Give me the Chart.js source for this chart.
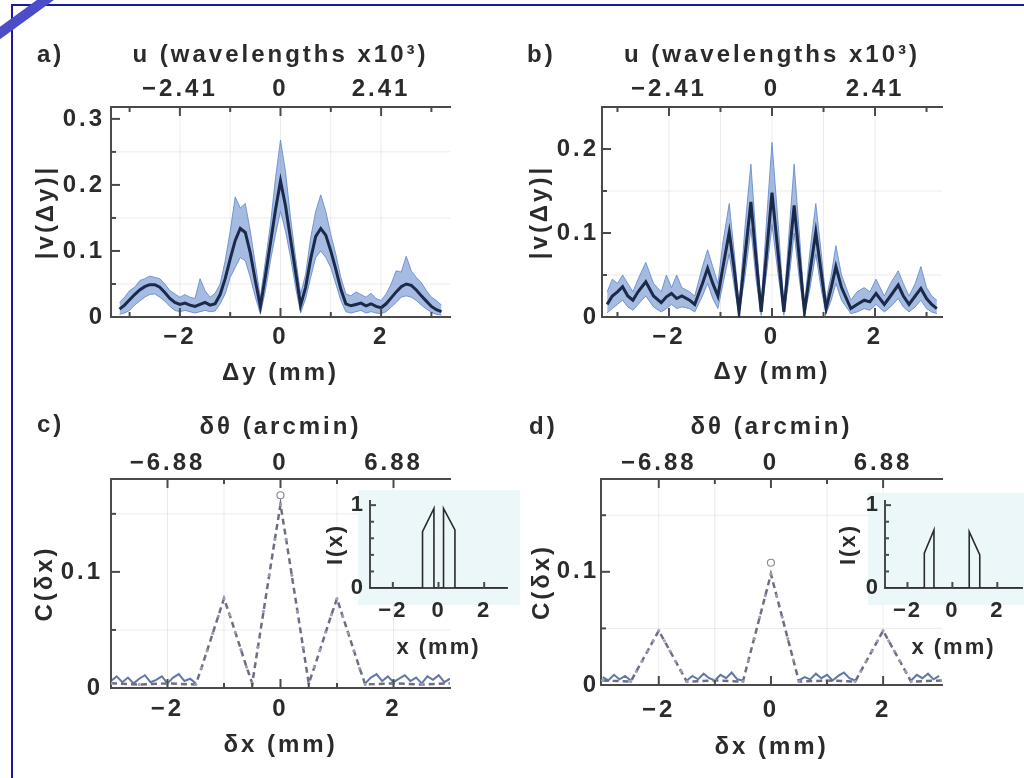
<!DOCTYPE html>
<html>
<head>
<meta charset="utf-8">
<script src="https://cdn.jsdelivr.net/npm/chart.js@4.4.0/dist/chart.umd.min.js"></script>
<style>
  body { margin: 0; background: #fff; }
  #page { position: relative; width: 1024px; height: 778px; overflow: hidden; }
  canvas { position: absolute; }
  #frame { position: absolute; left: 11px; top: 4px; width: 1100px; height: 900px;
           border-top: 2px solid #1a1aa0; border-left: 2px solid #1a1aa0; }
  #slash { position: absolute; left: -23px; top: 12px; width: 90px; height: 10px;
           background: #4c4cc8; transform: rotate(-36deg); }
</style>
</head>
<body>
<div id="page">
  <div id="frame"></div>
  <canvas id="pa"></canvas>
  <canvas id="pb"></canvas>
  <canvas id="pc"></canvas>
  <canvas id="pd"></canvas>
  <canvas id="ic"></canvas>
  <canvas id="id"></canvas>
  <div id="slash"></div>
</div>
<script>
'use strict';
// panel a: |v(dy)| measured, mean + spread
const xsA = [-3.2,-3.1,-3.0,-2.9,-2.8,-2.7,-2.6,-2.5,-2.4,-2.3,-2.2,-2.1,-2.0,-1.9,-1.8,-1.7,-1.6,-1.5,-1.4,-1.3,-1.2,-1.1,-1.0,-0.9,-0.8,-0.7,-0.6,-0.5,-0.4,-0.3,-0.2,-0.1,0,0.1,0.2,0.3,0.4,0.5,0.6,0.7,0.8,0.9,1.0,1.1,1.2,1.3,1.4,1.5,1.6,1.7,1.8,1.9,2.0,2.1,2.2,2.3,2.4,2.5,2.6,2.7,2.8,2.9,3.0,3.1,3.2];
const meanA = [0.012,0.018,0.026,0.034,0.041,0.046,0.049,0.049,0.045,0.037,
  0.028,0.022,0.019,0.021,0.018,0.016,0.019,0.022,0.018,0.020,
  0.034,0.058,0.088,0.116,0.134,0.128,0.097,0.055,0.016,0.062,
  0.112,0.162,0.206,0.168,0.118,0.068,0.018,0.045,0.088,0.122,
  0.134,0.124,0.100,0.072,0.042,0.020,0.017,0.019,0.021,0.017,
  0.020,0.016,0.014,0.020,0.029,0.038,0.046,0.050,0.048,0.041,
  0.032,0.024,0.016,0.011,0.008];
const upA = [0.022,0.030,0.040,0.045,0.055,0.058,0.062,0.060,0.058,0.050,
  0.040,0.035,0.030,0.034,0.030,0.028,0.058,0.040,0.030,0.036,
  0.050,0.085,0.130,0.182,0.165,0.172,0.130,0.080,0.030,0.085,
  0.140,0.210,0.268,0.220,0.150,0.090,0.035,0.065,0.120,0.160,
  0.185,0.160,0.125,0.095,0.060,0.035,0.032,0.038,0.034,0.030,
  0.036,0.028,0.025,0.035,0.050,0.070,0.068,0.092,0.070,0.060,
  0.052,0.040,0.030,0.025,0.018];
const loA = [0.004,0.006,0.010,0.018,0.024,0.030,0.034,0.035,0.030,0.024,
  0.016,0.010,0.008,0.010,0.008,0.006,0.008,0.010,0.008,0.009,
  0.020,0.035,0.060,0.075,0.090,0.085,0.060,0.030,0.005,0.040,
  0.085,0.125,0.160,0.130,0.090,0.045,0.006,0.028,0.060,0.090,
  0.100,0.090,0.075,0.050,0.025,0.008,0.006,0.008,0.010,0.006,
  0.008,0.006,0.005,0.008,0.015,0.022,0.030,0.032,0.030,0.025,
  0.018,0.012,0.007,0.004,0.003];

// panel b
const xsB = [-3.2,-3.1,-3.0,-2.9,-2.8,-2.7,-2.6,-2.45,-2.3,-2.15,
  -2.05,-1.95,-1.85,-1.75,-1.6,-1.5,-1.35,-1.25,-1.15,-1.05,
  -0.95,-0.83,-0.73,-0.64,-0.52,-0.41,-0.31,-0.21,-0.1,0,
  0.12,0.23,0.33,0.43,0.53,0.63,0.74,0.85,0.95,1.05,
  1.15,1.24,1.35,1.53,1.65,1.79,1.9,2.02,2.18,2.3,
  2.45,2.55,2.66,2.78,2.89,3.0,3.1,3.2];
const meanB = [0.015,0.025,0.030,0.036,0.025,0.020,0.030,0.042,0.025,0.017,
  0.024,0.028,0.022,0.025,0.020,0.015,0.040,0.058,0.040,0.025,
  0.060,0.101,0.055,0.006,0.075,0.137,0.070,0.006,0.080,0.148,
  0.075,0.006,0.070,0.133,0.070,0.006,0.055,0.101,0.055,0.010,
  0.035,0.060,0.035,0.010,0.015,0.020,0.018,0.028,0.015,0.025,
  0.038,0.025,0.015,0.025,0.034,0.022,0.015,0.010];
const upB = [0.030,0.045,0.040,0.050,0.040,0.030,0.045,0.065,0.040,0.030,
  0.050,0.035,0.050,0.035,0.030,0.025,0.060,0.080,0.060,0.040,
  0.090,0.135,0.075,0.015,0.110,0.182,0.095,0.015,0.120,0.208,
  0.110,0.015,0.100,0.182,0.100,0.015,0.080,0.135,0.080,0.020,
  0.050,0.085,0.050,0.020,0.030,0.035,0.030,0.045,0.025,0.040,
  0.055,0.040,0.025,0.040,0.060,0.035,0.025,0.020];
const loB = [0.005,0.010,0.015,0.020,0.012,0.008,0.015,0.025,0.012,0.006,
  0.010,0.015,0.010,0.012,0.010,0.006,0.025,0.040,0.022,0.010,
  0.040,0.075,0.035,0.002,0.050,0.105,0.045,0.002,0.055,0.110,
  0.050,0.002,0.045,0.100,0.045,0.002,0.035,0.075,0.035,0.004,
  0.020,0.040,0.020,0.004,0.006,0.010,0.008,0.015,0.006,0.012,
  0.022,0.012,0.006,0.012,0.020,0.010,0.006,0.004];

// panel c: C(dx), dashed model + measured noise at the edges
const xsC = [-3,-2.5,-2,-1.5,-1.4,-1.3,-1.2,-1.1,-1,-0.9,-0.8,-0.7,-0.6,-0.5,-0.4,-0.3,-0.2,-0.1,0,0.1,0.2,0.3,0.4,0.5,0.6,0.7,0.8,0.9,1,1.1,1.2,1.3,1.4,1.5,2,2.5,3];
const thC = [0.004,0.003,0.004,0.003,0.017,0.032,0.047,0.062,0.077,0.063,0.048,0.033,0.018,0.004,0.035,0.066,0.097,0.128,0.158,0.128,0.097,0.066,0.035,0.004,0.018,0.033,0.048,0.063,0.077,0.062,0.047,0.032,0.017,0.003,0.004,0.003,0.004];
const peakC = 0.166;
const nCLx = [-3.0,-2.9,-2.8,-2.7,-2.6,-2.5,-2.4,-2.3,-2.2,-2.1,-2.0,-1.9,-1.8,-1.7,-1.6,-1.5];
const nCL = [0.006,0.010,0.005,0.009,0.004,0.008,0.011,0.005,0.007,0.010,0.004,0.009,0.012,0.006,0.008,0.004];
const nCRx = [1.5,1.6,1.7,1.8,1.9,2.0,2.1,2.2,2.3,2.4,2.5,2.6,2.7,2.8,2.9,3.0];
const nCR = [0.004,0.009,0.012,0.006,0.010,0.005,0.008,0.011,0.006,0.009,0.004,0.010,0.007,0.011,0.005,0.008];

// panel d
const xsD = [-3,-2.5,-2.4,-2.3,-2.2,-2.1,-2,-1.9,-1.8,-1.7,-1.6,-1.5,-1,-0.5,-0.4,-0.3,-0.2,-0.1,0,0.1,0.2,0.3,0.4,0.5,1,1.5,1.6,1.7,1.8,1.9,2,2.1,2.2,2.3,2.4,2.5,3.05];
const thD = [0.004,0.003,0.012,0.021,0.030,0.039,0.048,0.039,0.030,0.021,0.012,0.003,0.004,0.003,0.022,0.041,0.060,0.079,0.098,0.079,0.060,0.041,0.022,0.003,0.004,0.003,0.012,0.021,0.030,0.039,0.048,0.039,0.030,0.021,0.012,0.003,0.004];
const peakD = 0.108;
const nD1x = [-3.0,-2.9,-2.8,-2.7,-2.6,-2.5];
const nD1 = [0.007,0.004,0.009,0.005,0.008,0.004];
const nD2x = [-1.5,-1.4,-1.3,-1.2,-1.1,-1.0,-0.9,-0.8,-0.7,-0.6,-0.5];
const nD2 = [0.004,0.008,0.005,0.010,0.006,0.004,0.009,0.006,0.011,0.005,0.004];
const nD3x = [0.5,0.6,0.7,0.8,0.9,1.0,1.1,1.2,1.3,1.4,1.5];
const nD3 = [0.004,0.007,0.005,0.010,0.006,0.009,0.004,0.008,0.011,0.006,0.004];
const nD4x = [2.5,2.6,2.7,2.8,2.9,3.0];
const nD4 = [0.004,0.009,0.006,0.010,0.005,0.008];

// insets: I(x) slit profiles
const inCx = [-3,-0.7,-0.7,-0.2,-0.2,0.22,0.22,0.72,0.72,3];
const inCy = [0,0,0.68,0.96,0,0,0.96,0.7,0,0];
const inDx = [-3,-1.25,-1.25,-0.82,-0.82,0.75,0.75,1.22,1.22,3.1];
const inDy = [0,0,0.42,0.7,0,0,0.68,0.4,0,0];

// tick labels
const majX = [-2, 0, 2];
const bottomLabels = ['\u22122', '0', '2'];
const uLabels = ['\u22122.41', '0', '2.41'];
const thetaLabels = ['\u22126.88', '0', '6.88'];

Chart.defaults.font.family = '"Liberation Sans", Arial, sans-serif';
Chart.defaults.font.weight = 'bold';
Chart.defaults.animation = false;

const pts = (xs, ys) => xs.map((x, i) => ({x: x, y: ys[i]}));
function lineSet(data, color, width, extra) {
  return Object.assign({data: data, showLine: true, borderColor: color, borderWidth: width,
    pointRadius: 0, fill: false, tension: 0}, extra || {});
}

function deco(c) {
  const seg = (ctx, x0, y0, x1, y1) => { ctx.beginPath(); ctx.moveTo(x0, y0); ctx.lineTo(x1, y1); ctx.stroke(); };
  return {
    id: 'deco',
    beforeDraw(chart) {
      const ctx = chart.ctx;
      ctx.letterSpacing = c.spacing + 'px';
      if (c.bg) {
        ctx.save();
        ctx.fillStyle = '#ecf7fa';
        ctx.fillRect(c.bg[0], c.bg[1], c.bg[2] - c.bg[0], c.bg[3] - c.bg[1]);
        ctx.restore();
      }
    },
    beforeDatasetsDraw(chart) {
      const {ctx, chartArea: a, scales} = chart;
      ctx.save();
      ctx.strokeStyle = 'rgba(0,0,0,0.08)';
      ctx.lineWidth = 1;
      (c.gridX || []).forEach(v => { const p = scales.x.getPixelForValue(v); seg(ctx, p, a.top, p, a.bottom); });
      (c.gridY || []).forEach(v => { const p = scales.y.getPixelForValue(v); seg(ctx, a.left, p, a.right, p); });
      ctx.restore();
    },
    afterDatasetsDraw(chart) {
      const {ctx, chartArea: a, scales} = chart;
      ctx.save();
      ctx.strokeStyle = '#4a4a4a';
      ctx.lineWidth = 2;
      c.marks.forEach(m => {
        const s = scales[m.id];
        const all = m.major.map(v => [v, c.tick[0]]).concat(m.minor.map(v => [v, c.tick[1]]));
        all.forEach(([v, len]) => {
          const p = s.getPixelForValue(v);
          if (m.id === 'x') seg(ctx, p, a.bottom, p, a.bottom - len);
          else if (m.id === 'x2') seg(ctx, p, a.top, p, a.top + len);
          else seg(ctx, a.left, p, a.left + len, p);
        });
      });
      if (c.letter) {
        ctx.fillStyle = '#2b2b2b';
        ctx.font = 'bold 24px "Liberation Sans", Arial, sans-serif';
        ctx.textBaseline = 'middle';
        ctx.textAlign = 'left';
        ctx.fillText(c.letter[0], c.letter[1], c.letter[2]);
      }
      ctx.restore();
    }
  };
}

function panel(id, box, area, c) {
  const cv = document.getElementById(id);
  cv.width = box.w; cv.height = box.h;
  cv.style.left = box.x + 'px'; cv.style.top = box.y + 'px';
  const L = area.l - box.x, T = area.t - box.y;
  const R = box.x + box.w - area.r, B = box.y + box.h - area.b;
  const font = {size: c.fs, weight: 'bold', lineHeight: 1};
  const axis = (ticks, labels, pad, title, tpad, fit) => ({
    type: 'linear',
    afterFit: fit,
    afterBuildTicks: s => { s.ticks = ticks.map(v => ({value: v})); },
    ticks: {padding: pad, font: font, autoSkip: false, maxRotation: 0, color: '#2b2b2b',
      callback: (v, i) => labels[i]},
    grid: {display: false, drawTicks: false},
    border: {display: true, color: '#4a4a4a', width: 2},
    // top/left titles use padding.top, bottom titles use padding.bottom
    title: {display: true, text: title, font: font, color: '#2b2b2b', padding: {top: tpad, bottom: tpad}}
  });
  const scales = {
    x: Object.assign(axis(majX, c.xLabels, c.xPad, c.xTitle, c.xTitlePad, s => { s.height = B; }),
      {position: 'bottom', min: c.xMin, max: c.xMax}),
    y: Object.assign(axis(c.yTicks, c.yLabels, c.yPad, c.yTitle, c.yTitlePad, s => { s.width = L; }),
      {position: 'left', min: 0, max: c.yMax})
  };
  if (c.topTitle) {
    scales.x2 = Object.assign(axis(majX, c.topLabels, c.topPad, c.topTitle, c.topTitlePad, s => { s.height = T; }),
      {position: 'top', min: c.xMin, max: c.xMax});
  }
  return new Chart(cv, {
    type: 'scatter',
    data: {datasets: c.datasets},
    options: {
      responsive: false,
      animation: false,
      layout: {padding: {left: 0, right: R, top: c.topTitle ? 0 : T, bottom: 0}},
      plugins: {legend: {display: false}, tooltip: {enabled: false}},
      scales: scales
    },
    plugins: [deco(c)]
  });
}

const bandLine = 'rgba(100,138,205,0.85)';
const bandFill = 'rgba(92,132,200,0.55)';
const meanCol = '#1b2a4a';
const dashCol = '#6e6e82';
const noiseCol = 'rgba(70,95,150,0.85)';

function modelSets(xs, ys, peak, noise) {
  const sets = [
    {data: [{x: 0, y: peak}], pointRadius: 3.5, pointBackgroundColor: '#fff', pointBorderColor: '#8a8a9a', pointBorderWidth: 1.2},
    lineSet(pts(xs, ys), dashCol, 2.5, {borderDash: [6, 4], pointRadius: 1.6, pointBackgroundColor: '#9aa2bb', pointBorderWidth: 0})
  ];
  noise.forEach(n => sets.push(lineSet(pts(n[0], n[1]), noiseCol, 2)));
  return sets;
}

const mainCommon = {fs: 24, spacing: 3, tick: [9, 5]};

panel('pa', {x: 0, y: 0, w: 512, h: 390}, {l: 111, t: 107, r: 450, b: 317}, Object.assign({}, mainCommon, {
  xMin: -3.37, xMax: 3.37, yMax: 0.318,
  xLabels: bottomLabels, xTitle: '\u0394y (mm)', xPad: 8, xTitlePad: 5,
  topLabels: uLabels, topTitle: 'u (wavelengths x10\u00b3)', topPad: 6, topTitlePad: 43,
  yTicks: [0, 0.1, 0.2, 0.3], yLabels: ['0', '0.1', '0.2', '0.3'], yTitle: '|v(\u0394y)|', yPad: 6, yTitlePad: 34,
  gridX: [-2, -1, 0, 1, 2], gridY: [0.05, 0.15, 0.25],
  marks: [{id: 'x', major: majX, minor: [-3, -1, 1, 3]}, {id: 'x2', major: majX, minor: [-3, -1, 1, 3]},
          {id: 'y', major: [0.1, 0.2, 0.3], minor: [0.05, 0.15, 0.25]}],
  letter: ['a)', 37, 55],
  datasets: [
    lineSet(pts(xsA, meanA), meanCol, 3),
    lineSet(pts(xsA, upA), bandLine, 1, {fill: '+1', backgroundColor: bandFill}),
    lineSet(pts(xsA, loA), bandLine, 1)
  ]
}));

panel('pb', {x: 512, y: 0, w: 512, h: 390}, {l: 602, t: 107, r: 942, b: 317}, Object.assign({}, mainCommon, {
  xMin: -3.3, xMax: 3.3, yMax: 0.25,
  xLabels: bottomLabels, xTitle: '\u0394y (mm)', xPad: 8, xTitlePad: 6,
  topLabels: uLabels, topTitle: 'u (wavelengths x10\u00b3)', topPad: 6, topTitlePad: 43,
  yTicks: [0, 0.1, 0.2], yLabels: ['0', '0.1', '0.2'], yTitle: '|v(\u0394y)|', yPad: 3, yTitlePad: 16,
  gridX: [-2, -1, 0, 1, 2], gridY: [0.05, 0.15],
  marks: [{id: 'x', major: majX, minor: [-3, -1, 1, 3]}, {id: 'x2', major: majX, minor: [-3, -1, 1, 3]},
          {id: 'y', major: [0.1, 0.2], minor: [0.05, 0.15]}],
  letter: ['b)', 15, 55],
  datasets: [
    lineSet(pts(xsB, meanB), meanCol, 3),
    lineSet(pts(xsB, upB), bandLine, 1, {fill: '+1', backgroundColor: bandFill}),
    lineSet(pts(xsB, loB), bandLine, 1)
  ]
}));

panel('pc', {x: 0, y: 388, w: 512, h: 390}, {l: 111, t: 479, r: 450, b: 688}, Object.assign({}, mainCommon, {
  xMin: -3.0, xMax: 3.0, yMax: 0.18,
  xLabels: bottomLabels, xTitle: '\u03b4x (mm)', xPad: 9, xTitlePad: 21,
  topLabels: thetaLabels, topTitle: '\u03b4\u03b8 (arcmin)', topPad: 4, topTitlePad: 27,
  yTicks: [0, 0.1], yLabels: ['0', '0.1'], yTitle: 'C(\u03b4x)', yPad: 8, yTitlePad: 33,
  gridX: [-2, -1, 1, 2], gridY: [0.05, 0.15],
  marks: [{id: 'x', major: majX, minor: [-1, -0.5, 0.5, 1]}, {id: 'x2', major: majX, minor: [-1, 1]},
          {id: 'y', major: [0.1], minor: [0.05, 0.15]}],
  letter: ['c)', 37, 37],
  datasets: modelSets(xsC, thC, peakC, [[nCLx, nCL], [nCRx, nCR]])
}));

panel('pd', {x: 512, y: 388, w: 512, h: 390}, {l: 601, t: 479, r: 942, b: 685}, Object.assign({}, mainCommon, {
  xMin: -3.03, xMax: 3.05, yMax: 0.182,
  xLabels: bottomLabels, xTitle: '\u03b4x (mm)', xPad: 13, xTitlePad: 19,
  topLabels: thetaLabels, topTitle: '\u03b4\u03b8 (arcmin)', topPad: 4, topTitlePad: 27,
  yTicks: [0, 0.1], yLabels: ['0', '0.1'], yTitle: 'C(\u03b4x)', yPad: 2, yTitlePad: 18,
  gridX: [-2, -1, 1, 2], gridY: [0.05, 0.15],
  marks: [{id: 'x', major: majX, minor: [-1, 1]}, {id: 'x2', major: majX, minor: [-1, 1]},
          {id: 'y', major: [0.1], minor: [0.05, 0.15]}],
  letter: ['d)', 17, 39],
  datasets: modelSets(xsD, thD, peakD, [[nD1x, nD1], [nD2x, nD2], [nD3x, nD3], [nD4x, nD4]])
}));

const insetCommon = {fs: 22, spacing: 2, tick: [6, 4], yMax: 1.05,
  xLabels: bottomLabels, xTitle: 'x (mm)', xPad: 12, xTitlePad: 6,
  yTicks: [0, 1], yLabels: ['0', '1'], yTitle: 'I(x)', yPad: 5};

panel('ic', {x: 320, y: 480, w: 200, h: 185}, {l: 370, t: 501, r: 507, b: 588}, Object.assign({}, insetCommon, {
  xMin: -3, xMax: 3, yTitlePad: 5, bg: [38, 10, 200, 125],
  marks: [{id: 'x', major: majX, minor: []}, {id: 'y', major: [1], minor: [0.2, 0.4, 0.6, 0.8]}],
  datasets: [lineSet(pts(inCx, inCy), '#2a2a2a', 1.6)]
}));

panel('id', {x: 835, y: 480, w: 189, h: 185}, {l: 885, t: 501, r: 1022, b: 588}, Object.assign({}, insetCommon, {
  xMin: -3, xMax: 3.1, yTitlePad: 3, bg: [33, 13, 189, 125],
  marks: [{id: 'x', major: majX, minor: []}, {id: 'y', major: [1], minor: [0.2, 0.4, 0.6, 0.8]}],
  datasets: [lineSet(pts(inDx, inDy), '#2a2a2a', 1.6)]
}));
</script>
</body>
</html>
